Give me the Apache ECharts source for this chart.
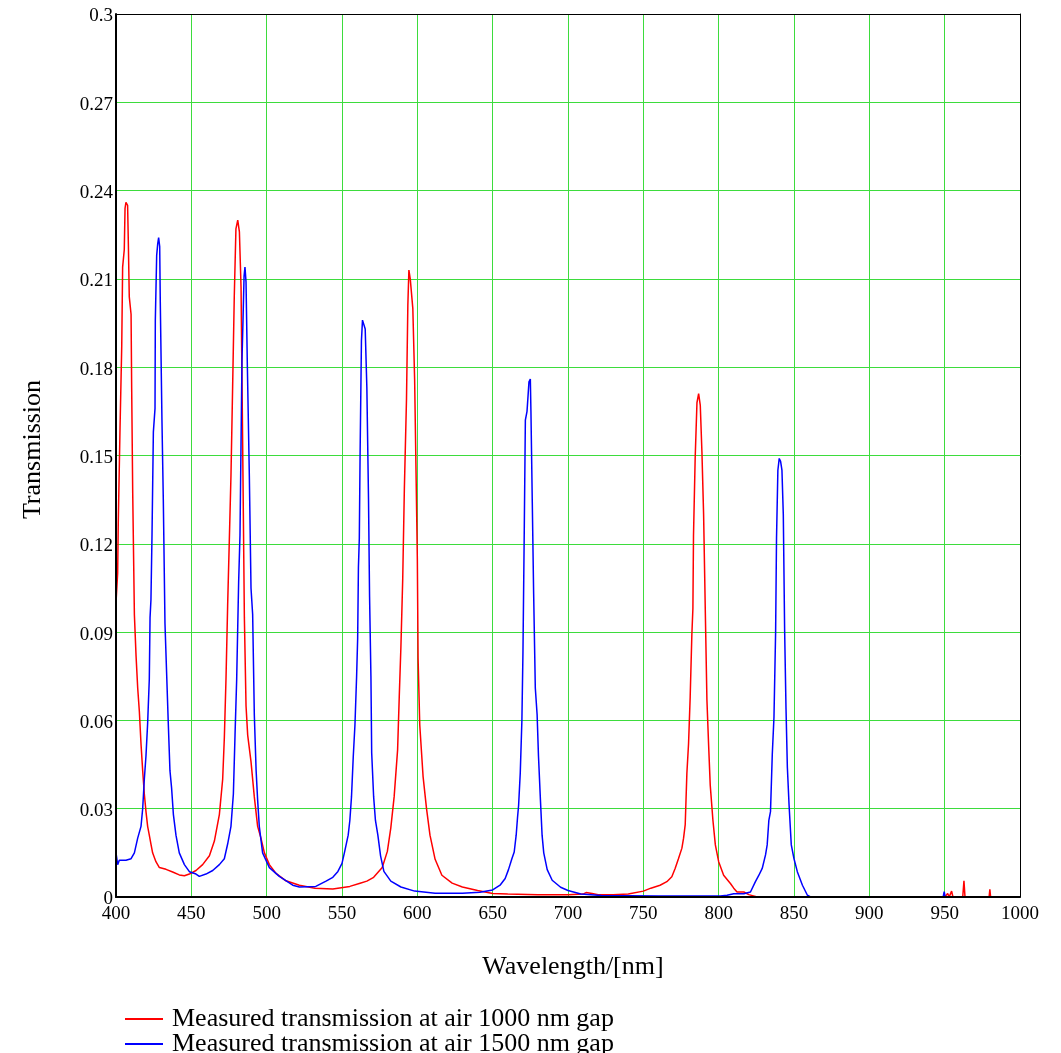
<!DOCTYPE html>
<html>
<head>
<meta charset="utf-8">
<script src="https://cdn.jsdelivr.net/npm/echarts@6/dist/echarts.min.js"></script>
<style>
html,body{margin:0;padding:0;background:#fff;}
#chart{width:1061px;height:1053px;}
</style>
</head>
<body>
<div id="chart"></div>
<script>
var xTicks = [400, 450, 500, 550, 600, 650, 700, 750, 800, 850, 900, 950, 1000];
var yTicks = [0, 0.03, 0.06, 0.09, 0.12, 0.15, 0.18, 0.21, 0.24, 0.27, 0.3];
var seriesNames = ['Measured transmission at air 1000 nm gap', 'Measured transmission at air 1500 nm gap'];

var redX = [400,401.1,401.5,402.7,403.8,404.4,405.5,406,406.6,407.7,408.2,408.8,410,410.4,411.1,412.2,413.3,414.4,415.5,416.6,417.7,418.8,419.9,421,422.1,423.2,424.3,426.5,428.8,433.2,437.6,442,445.4,448.7,453.1,457.5,462,465.3,468.6,470.8,471.9,473,474.1,475.2,476.3,477.4,478.5,479.6,480.8,481.9,483,484.1,485.2,486.3,487.4,489.6,491.8,494,496.2,498.5,501.8,506.2,512.8,521.7,532,543.9,555.2,562,566.5,571,576.7,580.1,582.4,584.6,586.9,588,589.1,590.3,591.4,592.8,593.7,594.4,595.3,597,598.2,599.3,600,600.5,601.6,603.8,606.1,608.4,611.8,616.3,623.1,629.9,640,650,660,680,700,710,712,716,720,730,740,750,755,761.1,765.6,768.9,771.1,773.3,775.6,776.7,777.8,778.9,780,781.1,782.2,782.9,783.3,784.4,785.6,786.7,787.8,788.9,790,791.1,792.2,793.3,794.4,796.2,797.8,800,803.3,807.8,810,812.2,816.7,820,825.6,950,952,953,954.6,955.5,962,962.8,963.5,979.5,980,980.5,1000];
var redY = [0.1,0.11,0.127,0.16,0.187,0.214,0.22,0.234,0.236,0.235,0.222,0.204,0.198,0.173,0.137,0.096,0.082,0.071,0.063,0.052,0.043,0.035,0.029,0.024,0.021,0.018,0.015,0.012,0.010,0.0094,0.0085,0.0075,0.0072,0.0078,0.009,0.011,0.014,0.019,0.028,0.040,0.054,0.074,0.099,0.121,0.143,0.173,0.204,0.227,0.23,0.226,0.207,0.152,0.095,0.065,0.055,0.046,0.034,0.024,0.020,0.015,0.011,0.008,0.0055,0.004,0.003,0.0027,0.0036,0.0047,0.0054,0.0067,0.010,0.0155,0.0235,0.034,0.050,0.068,0.085,0.108,0.139,0.169,0.201,0.213,0.21,0.2,0.176,0.139,0.115,0.081,0.0585,0.041,0.030,0.021,0.0128,0.0074,0.0047,0.0034,0.0022,0.0012,0.001,0.0008,0.0008,0.001,0.0015,0.0012,0.0008,0.0008,0.001,0.002,0.003,0.004,0.0052,0.0069,0.0097,0.013,0.0166,0.020,0.0246,0.042,0.052,0.068,0.089,0.098,0.123,0.149,0.168,0.171,0.167,0.151,0.13,0.098,0.067,0.052,0.038,0.026,0.0177,0.012,0.0074,0.0046,0.003,0.0017,0.0017,0.0008,0,0,0.0012,0,0.002,0,0,0.0055,0,0,0.0026,0,0];

var blueX = [400,401.1,402.2,403.3,406.6,410,412.2,414.4,416.6,417.7,418.8,419.9,421,422.1,422.6,423.2,423.9,424.8,425.9,426.1,427,427.7,428.3,429,429.4,430.5,431.4,432.5,433.6,434.7,435.8,436.9,438.1,439.8,442,445.4,448.7,453.1,455.3,459.7,464.2,468.6,471.9,474.1,476.3,477.9,479,480.1,481.4,482.3,483.6,484.3,485,485.6,486.3,487.2,488.5,489.6,490.7,491.8,493,494,495.1,497.3,501.8,508.4,517.3,521.7,532.6,539.4,543.9,547.3,550,551.8,554.1,555.2,556.3,557.5,558.6,559.7,560.4,560.9,561.5,562,562.9,563.6,564.3,565.4,566.5,567.6,568.3,569.2,569.7,571,572.2,573.8,575.6,577.8,582.4,589.1,598.2,611.8,629.9,641.5,650,654.9,658.3,660.5,662.7,664.3,665.6,666.5,667.2,668.3,669.4,670.1,671,671.7,672.8,674.1,675,675.4,676.3,677.2,678.3,679.5,680.4,681.7,682.8,683.9,686.2,689.5,695.1,700,708.5,722,760,801.1,805.6,810,816.7,821.1,824.4,826.7,828.9,831.1,832.2,833.3,834.4,835.6,836.7,837.8,838.4,839.3,840.2,841.1,842,842.9,843.8,844.7,845.6,846.7,848.2,850,852.2,855.6,858.9,861,949,949.7,950.3];
var blueY = [0.015,0.011,0.0125,0.012,0.0125,0.013,0.015,0.020,0.024,0.030,0.040,0.048,0.059,0.074,0.095,0.101,0.123,0.158,0.166,0.196,0.218,0.222,0.224,0.221,0.202,0.162,0.135,0.093,0.076,0.059,0.043,0.037,0.028,0.021,0.015,0.011,0.0086,0.0078,0.007,0.0078,0.009,0.011,0.013,0.018,0.024,0.035,0.055,0.074,0.107,0.123,0.182,0.196,0.211,0.214,0.209,0.180,0.143,0.105,0.096,0.062,0.043,0.033,0.024,0.015,0.010,0.007,0.004,0.0034,0.0036,0.0054,0.0067,0.0087,0.0114,0.0155,0.021,0.026,0.034,0.048,0.0585,0.075,0.088,0.112,0.122,0.15,0.189,0.196,0.196,0.193,0.173,0.135,0.102,0.075,0.049,0.034,0.026,0.021,0.014,0.0087,0.0054,0.0034,0.002,0.0013,0.0013,0.0016,0.0024,0.004,0.0063,0.0093,0.0129,0.0153,0.021,0.027,0.031,0.042,0.060,0.083,0.126,0.162,0.165,0.175,0.176,0.165,0.134,0.103,0.071,0.062,0.048,0.033,0.021,0.015,0.0093,0.0057,0.0033,0.0022,0.001,0.0005,0.0003,0.0003,0.0006,0.0011,0.0011,0.0017,0.0052,0.0074,0.0097,0.0143,0.0177,0.026,0.029,0.0487,0.061,0.090,0.122,0.145,0.149,0.148,0.145,0.13,0.090,0.064,0.044,0.0315,0.0177,0.013,0.0086,0.004,0.0006,0,0,0.0018,0];

function pairs(xs, ys) { return xs.map(function (x, i) { return [x, ys[i]]; }); }

var FONT = '"Liberation Serif", "Times New Roman", serif';
var chart = echarts.init(document.getElementById('chart'), null, {renderer: 'canvas'});
var xMin = xTicks[0], xMax = xTicks[xTicks.length - 1];
var yMin = yTicks[0], yMax = yTicks[yTicks.length - 1];
var xInt = xTicks[1] - xTicks[0], yInt = yTicks[1] - yTicks[0];

function yFmt(v) {
  var s = Math.abs(v) < 1e-9 ? '0' : parseFloat(v.toFixed(2)).toString();
  return '{a|' + s + '}';
}
function xFmt(v) { return String(Math.round(v)); }

function legendFor(i, top) {
  return {
    show: true, orient: 'vertical', left: 120, top: top, itemWidth: 38, itemHeight: 2,
    icon: 'rect', itemGap: 0,
    textStyle: {fontFamily: FONT, fontSize: 26, color: '#000', padding: [0, 0, 0, 4]},
    data: [seriesNames[i]]
  };
}
function frameAxis(pos, lo, hi, w) {
  return {
    type: 'value', min: lo, max: hi, position: pos,
    axisLine: {show: true, onZero: false, lineStyle: {color: '#000', width: w}},
    axisTick: {show: false}, axisLabel: {show: false}, splitLine: {show: false}, z: 10
  };
}

chart.setOption({
  backgroundColor: '#ffffff',
  animation: false,
  grid: {left: 116, right: 41, top: 14, bottom: 156, show: false},
  legend: [legendFor(0, 1001), legendFor(1, 1026)],
  xAxis: [{
    type: 'value', min: xMin, max: xMax, interval: xInt,
    axisLine: {show: false}, axisTick: {show: false}, axisLabel: {show: false},
    splitLine: {show: true, lineStyle: {color: '#3ddc3d', width: 1}}, z: 0
  }, {
    type: 'value', min: xMin, max: xMax, interval: xInt, position: 'bottom',
    name: 'Wavelength/[nm]', nameLocation: 'middle', nameGap: 57,
    nameTextStyle: {fontFamily: FONT, fontSize: 26, color: '#000', padding: [0, 0, 0, 10]},
    axisLine: {show: true, onZero: false, lineStyle: {color: '#000', width: 2}},
    axisTick: {show: false},
    axisLabel: {fontFamily: FONT, fontSize: 19, color: '#000', margin: 8, formatter: xFmt},
    splitLine: {show: false}, z: 10
  }, frameAxis('top', xMin, xMax, 1)],
  yAxis: [{
    type: 'value', min: yMin, max: yMax, interval: yInt,
    axisLine: {show: false}, axisTick: {show: false}, axisLabel: {show: false},
    splitLine: {show: true, lineStyle: {color: '#3ddc3d', width: 1}}, z: 0
  }, {
    type: 'value', min: yMin, max: yMax, interval: yInt, position: 'left',
    name: 'Transmission', nameLocation: 'middle', nameGap: 70, nameRotate: 90,
    nameTextStyle: {fontFamily: FONT, fontSize: 26, color: '#000', padding: [0, 0, 0, 12]},
    axisLine: {show: true, onZero: false, lineStyle: {color: '#000', width: 2}},
    axisTick: {show: false},
    axisLabel: {fontFamily: FONT, fontSize: 19, color: '#000', margin: 3, formatter: yFmt,
      rich: {a: {fontFamily: FONT, fontSize: 19, color: '#000', padding: [5, 0, 0, 0]}}},
    splitLine: {show: false}, z: 10
  }, frameAxis('right', yMin, yMax, 1)],
  series: [{
    name: seriesNames[0], type: 'line', xAxisIndex: 0, yAxisIndex: 0,
    data: pairs(redX, redY), symbol: 'none', smooth: false,
    lineStyle: {color: '#ff0000', width: 1.5}, itemStyle: {color: '#ff0000'}, z: 3
  }, {
    name: seriesNames[1], type: 'line', xAxisIndex: 0, yAxisIndex: 0,
    data: pairs(blueX, blueY), symbol: 'none', smooth: false,
    lineStyle: {color: '#0000ff', width: 1.5}, itemStyle: {color: '#0000ff'}, z: 4
  }]
});
</script>
</body>
</html>
